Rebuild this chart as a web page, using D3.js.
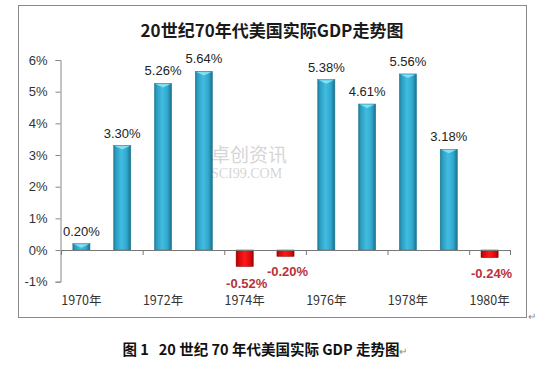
<!DOCTYPE html>
<html><head><meta charset="utf-8">
<script src="https://cdn.jsdelivr.net/npm/d3@7/dist/d3.min.js"></script>
<style>
html,body{margin:0;padding:0;background:#fff;}
svg{display:block;font-family:"Noto Sans CJK SC","Noto Sans",sans-serif;}
</style></head>
<body><svg id="c" width="547" height="365"></svg>
<script>
const years = ["1970年","1971年","1972年","1973年","1974年","1975年","1976年","1977年","1978年","1979年","1980年"];
const growth = [0.20, 3.30, 5.26, 5.64, -0.52, -0.20, 5.38, 4.61, 5.56, 3.18, -0.24];
const yTicks = [-1, 0, 1, 2, 3, 4, 5, 6];
const xTickLabels = ["1970年","1972年","1974年","1976年","1978年","1980年"];
const title = "20世纪70年代美国实际GDP走势图";
const caption = "图 1   20 世纪 70 年代美国实际 GDP 走势图";

const svg = d3.select("#c");
const defs = svg.append("defs");
function grad(id, stops){
  const g = defs.append("linearGradient").attr("id", id).attr("x1","0").attr("x2","1").attr("y1","0").attr("y2","0");
  stops.forEach(s => g.append("stop").attr("offset", s[0]).attr("stop-color", s[1]));
}
grad("gBlue", [[0,"#1c7894"],[0.12,"#2a9cc0"],[0.45,"#41bde0"],[0.75,"#32a9cf"],[1,"#1a6f8c"]]);
grad("gRed", [[0,"#a80000"],[0.15,"#d80808"],[0.5,"#ff1a1a"],[0.85,"#d80808"],[1,"#9a0000"]]);

// frame
svg.append("rect").attr("x",18.5).attr("y",5.5).attr("width",508).attr("height",312)
  .attr("fill","#fff").attr("stroke","#8a8a8a").attr("stroke-width",1);

// title
svg.append("text").attr("x",272).attr("y",37).attr("text-anchor","middle")
  .attr("font-size",17).attr("font-weight","bold").attr("fill","#1a1a1a").text(title);

const x = d3.scaleBand().domain(years).range([61, 510]).paddingInner(0.58).paddingOuter(0.29);
const y = d3.scaleLinear().domain([-1, 6]).range([281.7, 60]);

// watermark
const wm = svg.append("g").attr("opacity",0.3);
wm.append("rect").attr("x",196).attr("y",148).attr("width",10).attr("height",24).attr("fill","#999");
wm.append("text").attr("x",211).attr("y",162).attr("font-size",19).attr("fill","#777").text("卓创资讯");
wm.append("text").attr("x",211).attr("y",178).attr("font-size",14).attr("font-family","Liberation Serif,serif").attr("fill","#777").text("SCI99.COM");

// y axis
const yAxis = d3.axisLeft(y).tickValues(yTicks).tickSize(5).tickFormat(d => d + "%");
const ga = svg.append("g").attr("transform","translate(60.5,0)").call(yAxis);
ga.select(".domain").attr("stroke","#888");
ga.selectAll(".tick line").attr("stroke","#888");
ga.selectAll(".tick text").attr("font-size",13).attr("fill","#333").attr("x",-13)
  .attr("font-family","Liberation Sans,Arial,sans-serif");

// bars
const bars = svg.append("g");
bars.selectAll("rect.bar").data(growth).join("rect")
  .attr("x",(d,i)=>x(years[i]))
  .attr("y",d=>y(Math.max(0,d)))
  .attr("width",x.bandwidth())
  .attr("height",d=>Math.abs(y(d)-y(0)))
  .attr("fill",d=>d>=0?"url(#gBlue)":"url(#gRed)")
  .attr("stroke",d=>d>=0?"#1d7591":"#8c0000").attr("stroke-width",0.5);
// top caps on positive bars
bars.selectAll("path.cap").data(growth).join("path")
  .attr("d",(d,i)=>{
    if(d<0) return "";
    const x0 = x(years[i]), w = x.bandwidth(), t = y(d);
    return `M${x0+1},${t+0.5} L${x0+w-1},${t+0.5} L${x0+w/2},${t+4} Z`;
  })
  .attr("fill","#8fe6f7").attr("opacity",0.85);

// x axis line at 0
const xAxisG = svg.append("g");
xAxisG.append("line").attr("x1",61).attr("x2",510).attr("y1",y(0)+0.5).attr("y2",y(0)+0.5).attr("stroke","#777");
const step = x.step();
const boundaryIdx = [0,2,4,6,8,10,11];
xAxisG.selectAll("line.t").data(boundaryIdx).join("line")
  .attr("x1",d=>61+d*step+0.5).attr("x2",d=>61+d*step+0.5)
  .attr("y1",y(0)).attr("y2",y(0)+5).attr("stroke","#777");

// x labels
svg.append("g").selectAll("text").data(xTickLabels).join("text")
  .attr("x",d=>x(d)+x.bandwidth()/2).attr("y",305).attr("text-anchor","middle")
  .attr("font-size",12.5).attr("fill","#333").text(d=>d);

// value labels
svg.append("g").selectAll("text").data(growth).join("text")
  .attr("x",(d,i)=>x(years[i])+x.bandwidth()/2 + (d<0?2:0))
  .attr("y",d=>d>=0? y(d)-8 : y(d)+ (d<-0.4?22:20))
  .attr("text-anchor","middle")
  .attr("font-size",13)
  .attr("font-weight",d=>d<0?"bold":"normal")
  .attr("fill",d=>d<0?"#b8323a":"#222")
  .attr("font-family","Liberation Sans,Arial,sans-serif")
  .text(d=>d.toFixed(2)+"%");

// paragraph marks
svg.append("text").attr("x",528).attr("y",320).attr("font-size",10).attr("fill","#888").text("↵");

// caption
const cap = svg.append("text").attr("x",265).attr("y",355).attr("text-anchor","middle")
  .attr("font-size",14.5).attr("font-weight","bold").attr("fill","#111");
cap.append("tspan").text(caption.replace(/ /g, "\u00a0"));
cap.append("tspan").attr("font-size",10).attr("font-weight","normal").attr("fill","#888").text("↵");
</script></body></html>
